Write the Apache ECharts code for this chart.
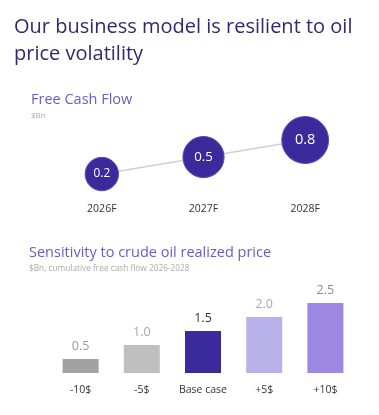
<!DOCTYPE html>
<html>
<head>
<meta charset="utf-8">
<script src="https://cdn.jsdelivr.net/npm/echarts@6/dist/echarts.min.js"></script>
<style>html,body{margin:0;padding:0;background:#fff;}#c{width:379px;height:415px;}</style>
</head>
<body>
<div id="c"></div>
<script>
var fcfYears = ['2026F', '2027F', '2028F'];
var fcfValues = [0.2, 0.5, 0.8];
var sensCategories = ['-10$', '-5$', 'Base case', '+5$', '+10$'];
var sensValues = [0.5, 1.0, 1.5, 2.0, 2.5];

var FONT = '"Open Sans", "Noto Sans", sans-serif';
var barColors = ['#a2a2a2', '#bfbfbf', '#3a2a9c', '#b9b1ea', '#9c88e2'];
var labelColors = ['#9a9a9a', '#a8a8a8', '#333333', '#a8a8a8', '#8c8c8c'];

var chart = echarts.init(document.getElementById('c'), null, {renderer: 'canvas'});
chart.setOption({
  backgroundColor: '#ffffff',
  animation: false,
  title: [
    {text: 'Our business model is resilient to oil\nprice volatility', left: 14, top: 14, padding: 0,
     textStyle: {fontFamily: FONT, fontSize: 20, fontWeight: 'normal', color: '#2e2b6d', lineHeight: 27}},
    {text: 'Free Cash Flow', left: 31, top: 92, padding: 0, subtext: '$Bn', itemGap: 5,
     textStyle: {fontFamily: FONT, fontSize: 14.5, fontWeight: 'normal', color: '#6a5cc4'},
     subtextStyle: {fontFamily: FONT, fontSize: 8, color: '#aaaaaa'}},
    {text: 'Sensitivity to crude oil realized price', left: 29, top: 245, padding: 0, subtext: '$Bn, cumulative free cash flow 2026-2028', itemGap: 5,
     textStyle: {fontFamily: FONT, fontSize: 14.5, fontWeight: 'normal', color: '#6a5cc4'},
     subtextStyle: {fontFamily: FONT, fontSize: 8.3, color: '#aaaaaa'}}
  ],
  grid: [
    {left: 51, right: 23, top: 128.7, height: 56.7},
    {left: 50, right: 23, top: 303, height: 70}
  ],
  xAxis: [
    {type: 'category', gridIndex: 0, data: fcfYears, boundaryGap: true,
     axisLine: {show: false}, axisTick: {show: false},
     axisLabel: {interval: 0, margin: 18, fontFamily: FONT, fontSize: 10.5, color: '#333333'}},
    {type: 'category', gridIndex: 1, data: sensCategories, boundaryGap: true,
     axisLine: {show: false}, axisTick: {show: false},
     axisLabel: {interval: 0, margin: 12, fontFamily: FONT, fontSize: 10.5, color: '#333333'}}
  ],
  yAxis: [
    {type: 'value', gridIndex: 0, min: 0, max: 1, show: false, splitLine: {show: false}},
    {type: 'value', gridIndex: 1, min: 0, max: 2.5, show: false, splitLine: {show: false}}
  ],
  series: [
    {type: 'line', xAxisIndex: 0, yAxisIndex: 0,
     data: fcfValues.map(function (v) {
       return {value: v, label: {fontSize: 11 + 4.5 * v}};
     }),
     symbol: 'circle',
     symbolSize: function (v) { return 20 + 30 * Math.sqrt(v); },
     itemStyle: {color: '#3a2a9c', borderColor: '#5a4bb8', borderWidth: 1},
     lineStyle: {color: '#d0d0d0', width: 1.5},
     label: {show: true, position: 'inside', color: '#ffffff', fontFamily: FONT,
       formatter: function (p) { return p.value.toFixed(1); }},
     z: 3},
    {type: 'bar', xAxisIndex: 1, yAxisIndex: 1, barWidth: 36,
     data: sensValues.map(function (v, i) {
       return {value: v, itemStyle: {color: barColors[i]}, label: {color: labelColors[i]}};
     }),
     label: {show: true, position: 'top', distance: 6, fontFamily: FONT, fontSize: 12.5,
       formatter: function (p) { return p.value.toFixed(1); }}}
  ]
});
</script>
</body>
</html>
